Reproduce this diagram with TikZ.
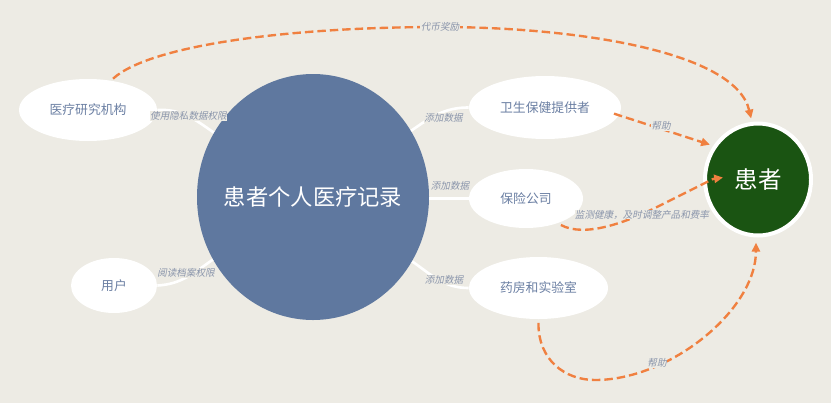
\documentclass[tikz,border=0pt]{standalone}
\usepackage{fontspec}
\usetikzlibrary{shapes.geometric,arrows.meta}
\setmainfont{Noto Sans CJK SC}
\newfontfamily\slantcjk[FakeSlant=0.2]{Noto Sans CJK SC}
\definecolor{paper}{HTML}{EDEBE4}
\definecolor{recordblue}{HTML}{5F789F}
\definecolor{patientgreen}{HTML}{1A5412}
\definecolor{helporange}{HTML}{F08040}
\definecolor{partytext}{HTML}{6B7FA3}
\definecolor{tagtext}{HTML}{8A95AB}
\tikzset{
  party/.style={ellipse,fill=white,text=partytext,font=\fontsize{7.3}{8}\selectfont},
  link/.style={white,line width=1.5pt},
  help/.style={helporange,line width=1.35pt,dash pattern=on 4.8pt off 2.3pt,-{Triangle[length=5pt,width=4.6pt]}},
  tag/.style={fill=paper,text=tagtext,inner sep=0.2pt,font=\slantcjk\fontsize{5.45}{6}\selectfont},
}
\begin{document}
\begin{tikzpicture}[scale=0.2]
\tikzstyle{every node}+=[inner sep=0pt]
\useasboundingbox (0,0) rectangle (83.1,-40.3);
\fill [paper] (0,0) rectangle (83.1,-40.3);
% nodes
\node [ellipse,fill=recordblue,text=white,minimum width=4.64cm,minimum height=4.92cm,font=\fontsize{12.7}{14}\selectfont] (record) at (31.3,-19.7) {\makebox[0pt]{患者个人医疗记录}};
\node [party,minimum width=2.76cm,minimum height=1.24cm] (institute) at (8.8,-11) {医疗研究机构};
\node [party,minimum width=1.72cm,minimum height=1.1cm] (user) at (11.4,-28.55) {用户};
\node [party,minimum width=3.04cm,minimum height=1.26cm] (care) at (54.5,-10.75) {卫生保健提供者};
\node [party,minimum width=2.28cm,minimum height=1.18cm] (insurer) at (52.6,-19.85) {保险公司};
\node [party,minimum width=2.78cm,minimum height=1.24cm] (pharmacy) at (53.85,-28.8) {药房和实验室};
\node [ellipse,fill=patientgreen,draw=white,line width=2.27pt,text=white,minimum width=2.12cm,minimum height=2.24cm,font=\fontsize{13.4}{15}\selectfont] (patient) at (75.8,-17.95) {\raisebox{1pt}{患者}};
\coordinate (patientin) at (72.3,-17.75);
% white links
\draw [link] (institute.east) to [out=3,in=145] (record.147);
\draw [link] (user.east) to [out=3,in=215] (record.212);
\draw [link] (care.west) to [out=180,in=35] (record.34);
\draw [link] (insurer.west) -- (record.east |- insurer.west);
\draw [link] (pharmacy.west) to [out=180,in=-35] (record.-33);
% orange links
\draw [help,shorten <=1.5pt,shorten >=2pt] (institute.52) .. controls (15,-4.5) and (29,-2.7) .. (44,-2.7) .. controls (57,-2.7) and (73.5,-5) .. (patient.96);
\draw [help,shorten <=-3pt,shorten >=2pt] (care.-6) -- (patient.143);
\draw [help,shorten <=2pt] (insurer.-38) .. controls (58.5,-23.8) and (62.7,-22.2) .. (65.7,-20.7) -- (71.3,-17.9) -- (patientin);
\draw [help,shorten <=2pt,shorten >=3pt] (pharmacy.south) .. controls (53.8,-36) and (56.5,-38) .. (59.5,-38) .. controls (67,-38) and (75.6,-31) .. (patient.-92);
% labels
\node [tag] (tagprivacy) at (18.85,-11.6) {使用隐私数据权限};
\node [tag] (tagread) at (18.6,-27.3) {阅读档案权限};
\node [tag] (tagcare) at (44.35,-11.8) {添加数据};
\node [tag] (taginsurer) at (45,-18.6) {添加数据};
\node [tag] (tagpharmacy) at (44.4,-28) {添加数据};
\node [tag] (tagtoken) at (44,-2.7) {代币奖励};
\node [tag] (taghelpcare) at (66.1,-12.6) {帮助};
\node [tag] (tagmonitor) at (64.2,-21.45) {监测健康，及时调整产品和费率};
\node [tag] (taghelppharmacy) at (65.7,-36.3) {帮助};
\end{tikzpicture}
\end{document}
